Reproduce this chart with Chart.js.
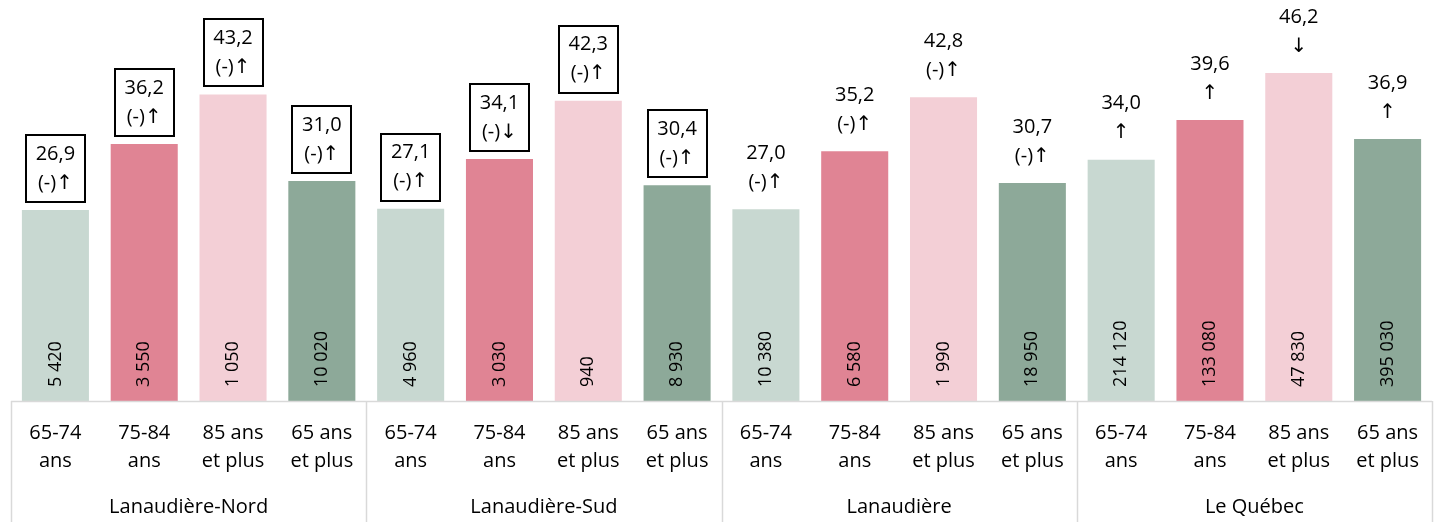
<!DOCTYPE html>
<html>
<head>
<meta charset="utf-8">
<script src="https://cdn.jsdelivr.net/npm/chart.js@4"></script>
<style>
html,body{margin:0;padding:0;background:#fff;}
#wrap{width:1442px;height:522px;position:relative;}
</style>
</head>
<body>
<div id="wrap"><canvas id="c" width="1442" height="522"></canvas></div>
<script>
const groups = ["Lanaudière-Nord", "Lanaudière-Sud", "Lanaudière", "Le Québec"];
const ageLabels = [["65-74", "ans"], ["75-84", "ans"], ["85 ans", "et plus"], ["65 ans", "et plus"]];
const values = [26.9, 36.2, 43.2, 31.0, 27.1, 34.1, 42.3, 30.4, 27.0, 35.2, 42.8, 30.7, 34.0, 39.6, 46.2, 36.9];
const counts = ["5 420", "3 550", "1 050", "10 020", "4 960", "3 030", "940", "8 930", "10 380", "6 580", "1 990", "18 950", "214 120", "133 080", "47 830", "395 030"];
const valueTexts = ["26,9", "36,2", "43,2", "31,0", "27,1", "34,1", "42,3", "30,4", "27,0", "35,2", "42,8", "30,7", "34,0", "39,6", "46,2", "36,9"];
const flags = ["(-)↑", "(-)↑", "(-)↑", "(-)↑", "(-)↑", "(-)↓", "(-)↑", "(-)↑", "(-)↑", "(-)↑", "(-)↑", "(-)↑", "↑", "↑", "↓", "↑"];
const boxed = [true, true, true, true, true, true, true, true, false, false, false, false, false, false, false, false];
const ageColors = ["#c8d8d1", "#e08494", "#f3cfd6", "#8da999"];

const labels = [];
const colors = [];
groups.forEach((g, gi) => ageLabels.forEach((a, ai) => { labels.push(g + " " + a.join(" ")); colors.push(ageColors[ai]); }));

const FONT = "'Open Sans', 'DejaVu Sans', sans-serif";

const annot = {
  id: 'annot',
  afterDatasetsDraw(chart) {
    const ctx = chart.ctx;
    const meta = chart.getDatasetMeta(0);
    const area = chart.chartArea;
    const xs = chart.scales.x;
    ctx.save();
    // labels above bars
    meta.data.forEach((bar, i) => {
      const cx = bar.x;
      const top = bar.y;
      const l1 = top - 56, l2 = top - 27;
      ctx.fillStyle = '#000';
      ctx.textAlign = 'center';
      ctx.textBaseline = 'middle';
      ctx.font = "20px " + FONT;
      ctx.fillText(valueTexts[i], cx, l1);
      ctx.fillText(flags[i], cx, l2);
      if (boxed[i]) {
        ctx.strokeStyle = '#000';
        ctx.lineWidth = 2;
        ctx.strokeRect(Math.round(cx - 29.5), Math.round(top - 75), 59, 67);
      }
      // counts inside bars, rotated
      ctx.save();
      ctx.translate(cx, area.bottom - 14);
      ctx.rotate(-Math.PI / 2);
      ctx.textAlign = 'left';
      ctx.textBaseline = 'middle';
      ctx.font = "18px " + FONT;
      ctx.fillText(counts[i], 0, 0);
      ctx.restore();
    });
    // axis line
    ctx.strokeStyle = '#d9d9d9';
    ctx.lineWidth = 1.5;
    ctx.beginPath();
    ctx.moveTo(area.left, area.bottom + 0.5);
    ctx.lineTo(area.right, area.bottom + 0.5);
    ctx.stroke();
    // group separators
    const step = (area.right - area.left) / values.length;
    for (let g = 0; g <= groups.length; g++) {
      const x = Math.round(area.left + g * 4 * step) + 0.5;
      ctx.beginPath();
      ctx.moveTo(x, area.bottom);
      ctx.lineTo(x, chart.height);
      ctx.stroke();
    }
    // category labels
    ctx.fillStyle = '#000';
    ctx.textAlign = 'center';
    ctx.textBaseline = 'middle';
    ctx.font = "20px " + FONT;
    for (let i = 0; i < values.length; i++) {
      const cx = xs.getPixelForValue(i);
      const a = ageLabels[i % 4];
      ctx.fillText(a[0], cx, area.bottom + 32);
      ctx.fillText(a[1], cx, area.bottom + 60);
    }
    for (let g = 0; g < groups.length; g++) {
      const cx = (xs.getPixelForValue(g * 4) + xs.getPixelForValue(g * 4 + 3)) / 2;
      ctx.fillText(groups[g], cx, area.bottom + 106);
    }
    ctx.restore();
  }
};

new Chart(document.getElementById('c'), {
  type: 'bar',
  data: {
    labels: labels,
    datasets: [{ data: values, backgroundColor: colors, borderWidth: 0, barPercentage: 0.755, categoryPercentage: 1.0 }]
  },
  options: {
    responsive: false,
    animation: false,
    layout: { padding: { left: 11, right: 10, top: 0, bottom: 121 } },
    plugins: { legend: { display: false }, tooltip: { enabled: false } },
    scales: {
      x: { display: false },
      y: { display: false, min: 0, max: 56.5 }
    }
  },
  plugins: [annot]
});
</script>
</body>
</html>
